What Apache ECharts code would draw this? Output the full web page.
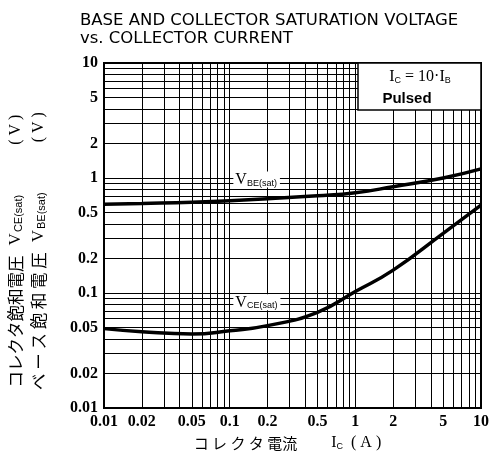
<!DOCTYPE html>
<html><head><meta charset="utf-8">
<script src="https://cdn.jsdelivr.net/npm/echarts@6/dist/echarts.min.js"></script>
<style>html,body{margin:0;padding:0;background:#fff}#c{width:493px;height:462px}</style>
</head><body><div id="c"></div>
<script>
const xTickLabels = [0.01, 0.02, 0.05, 0.1, 0.2, 0.5, 1, 2, 5, 10];
const yTickLabels = [0.01, 0.02, 0.05, 0.1, 0.2, 0.5, 1, 2, 5, 10];
const gridValues = [0.01,0.02,0.03,0.04,0.05,0.06,0.07,0.08,0.09,0.1,0.2,0.3,0.4,0.5,0.6,0.7,0.8,0.9,1,2,3,4,5,6,7,8,9,10];
const vbeCurrent = [0.01, 0.02, 0.05, 0.1, 0.2, 0.5, 1, 2, 5, 10];
const vbeValues  = [0.59, 0.60, 0.615, 0.635, 0.66, 0.70, 0.745, 0.84, 1.0, 1.2];
const vceCurrent = [0.01, 0.02, 0.05, 0.1, 0.2, 0.5, 1, 2, 5, 10];
const vceValues  = [0.049, 0.046, 0.044, 0.047, 0.052, 0.068, 0.103, 0.158, 0.33, 0.58];
const labelAnchors = {vbe: [0.107, 0.97], vce: [0.107, 0.083]};

const chart = echarts.init(document.getElementById('c'), null, {renderer: 'canvas'});
const fmt = v => String(+v.toPrecision(3));
const tickFont = {color: '#000', fontFamily: 'Liberation Serif', fontWeight: 'bold', fontSize: 16};
const axisCommon = {
  type: 'log', logBase: 10, min: 0.01, max: 10,
  axisLine: {show: true, lineStyle: {color: '#000', width: 2}},
  axisTick: {show: false, customValues: gridValues},
  splitLine: {show: true, lineStyle: {color: '#000', width: 1}},
  minorSplitLine: {show: false}
};
const subRich = {
  a: {fontFamily: 'Liberation Serif', fontSize: 16, color: '#000'},
  ai: {fontFamily: 'Liberation Serif', fontSize: 16, color: '#000', padding: [0, 0, 0, 34]},
  vv: {fontFamily: 'Liberation Serif', fontSize: 17, color: '#000', padding: [0, 0, 0, 10]},
  pv: {fontFamily: 'Liberation Serif', fontSize: 16, color: '#000', padding: [0, 0, 0, 50]},
  s: {fontFamily: 'Liberation Sans', fontSize: 9, color: '#000', verticalAlign: 'bottom', padding: [7, 0, 0, 0]},
  s2: {fontFamily: 'Liberation Sans', fontSize: 11, color: '#000', verticalAlign: 'bottom', padding: [6, 0, 0, 1]},
  j: {fontFamily: 'Noto Sans CJK JP', fontSize: 15, color: '#000'},
  jy: {fontFamily: 'Noto Sans CJK JP', fontSize: 16.5, color: '#000'}
};
chart.setOption({
  animation: false,
  backgroundColor: '#fff',
  title: {
    text: 'BASE AND COLLECTOR SATURATION VOLTAGE\nvs. COLLECTOR CURRENT',
    left: 75, top: 7,
    textStyle: {fontFamily: 'DejaVu Sans', fontSize: 16.5, fontWeight: 'normal', color: '#000', lineHeight: 18}
  },
  grid: {left: 104, right: 12, top: 63, bottom: 54, show: true, borderColor: '#000', borderWidth: 2},
  xAxis: Object.assign({}, axisCommon, {
    axisLabel: Object.assign({customValues: xTickLabels, formatter: fmt, margin: 6}, tickFont),
    name: '{j|コ レ ク タ 電流}{ai|I}{s|C}{a|  ( A )}',
    nameLocation: 'middle', nameGap: 27,
    nameTextStyle: {rich: subRich, padding: [0, 10, 0, 0]}
  }),
  yAxis: Object.assign({}, axisCommon, {
    axisLabel: Object.assign({customValues: yTickLabels, formatter: fmt, margin: 6}, tickFont)
  }),
  series: [
    {type: 'line', name: 'VBE(sat)', data: vbeCurrent.map((x, i) => [x, vbeValues[i]]), smooth: 0.5, showSymbol: false, lineStyle: {color: '#000', width: 3.5}, z: 5},
    {type: 'line', name: 'VCE(sat)', data: vceCurrent.map((x, i) => [x, vceValues[i]]), smooth: 0.5, showSymbol: false, lineStyle: {color: '#000', width: 3.5}, z: 5}
  ]
});
const pb = chart.convertToPixel({gridIndex: 0}, labelAnchors.vbe);
const pc = chart.convertToPixel({gridIndex: 0}, labelAnchors.vce);
chart.setOption({graphic: [
  {id: 'ytitle1', type: 'text', x: 16, y: 251, rotation: Math.PI / 2,
   style: {text: '{jy|コレクタ飽和電圧}{vv|V}{s2|CE(sat)}{pv|( V )}', rich: subRich, align: 'center', verticalAlign: 'middle'}},
  {id: 'ytitle2', type: 'text', x: 39, y: 251, rotation: Math.PI / 2,
   style: {text: '{jy|ベ ー ス 飽 和 電 圧}{vv|V}{s2|BE(sat)}{pv|( V )}', rich: subRich, align: 'center', verticalAlign: 'middle'}},
  {id: 'legBox', type: 'rect', shape: {x: 358, y: 63, width: 123, height: 47}, style: {fill: '#fff', stroke: '#000', lineWidth: 1.5}, z: 50},
  {id: 'legCond', type: 'text', x: 420, y: 77, z: 51,
   style: {text: '{a|I}{s|C}{a| = 10·I}{s|B}', rich: subRich, align: 'center', verticalAlign: 'middle'}},
  {id: 'legPulsed', type: 'text', x: 407, y: 99, z: 51,
   style: {text: 'Pulsed', fontFamily: 'Liberation Sans', fontWeight: 'bold', fontSize: 15, fill: '#000', align: 'center', verticalAlign: 'middle'}},
  {id: 'lblVbe', type: 'text', x: pb[0], y: pb[1], z: 40,
   style: {text: '{a|V}{s|BE(sat)}', rich: subRich, backgroundColor: '#fff', padding: [0, 3, 0, 2], align: 'left', verticalAlign: 'middle'}},
  {id: 'lblVce', type: 'text', x: pc[0], y: pc[1], z: 40,
   style: {text: '{a|V}{s|CE(sat)}', rich: subRich, backgroundColor: '#fff', padding: [0, 3, 0, 2], align: 'left', verticalAlign: 'middle'}}
]});
</script></body></html>
